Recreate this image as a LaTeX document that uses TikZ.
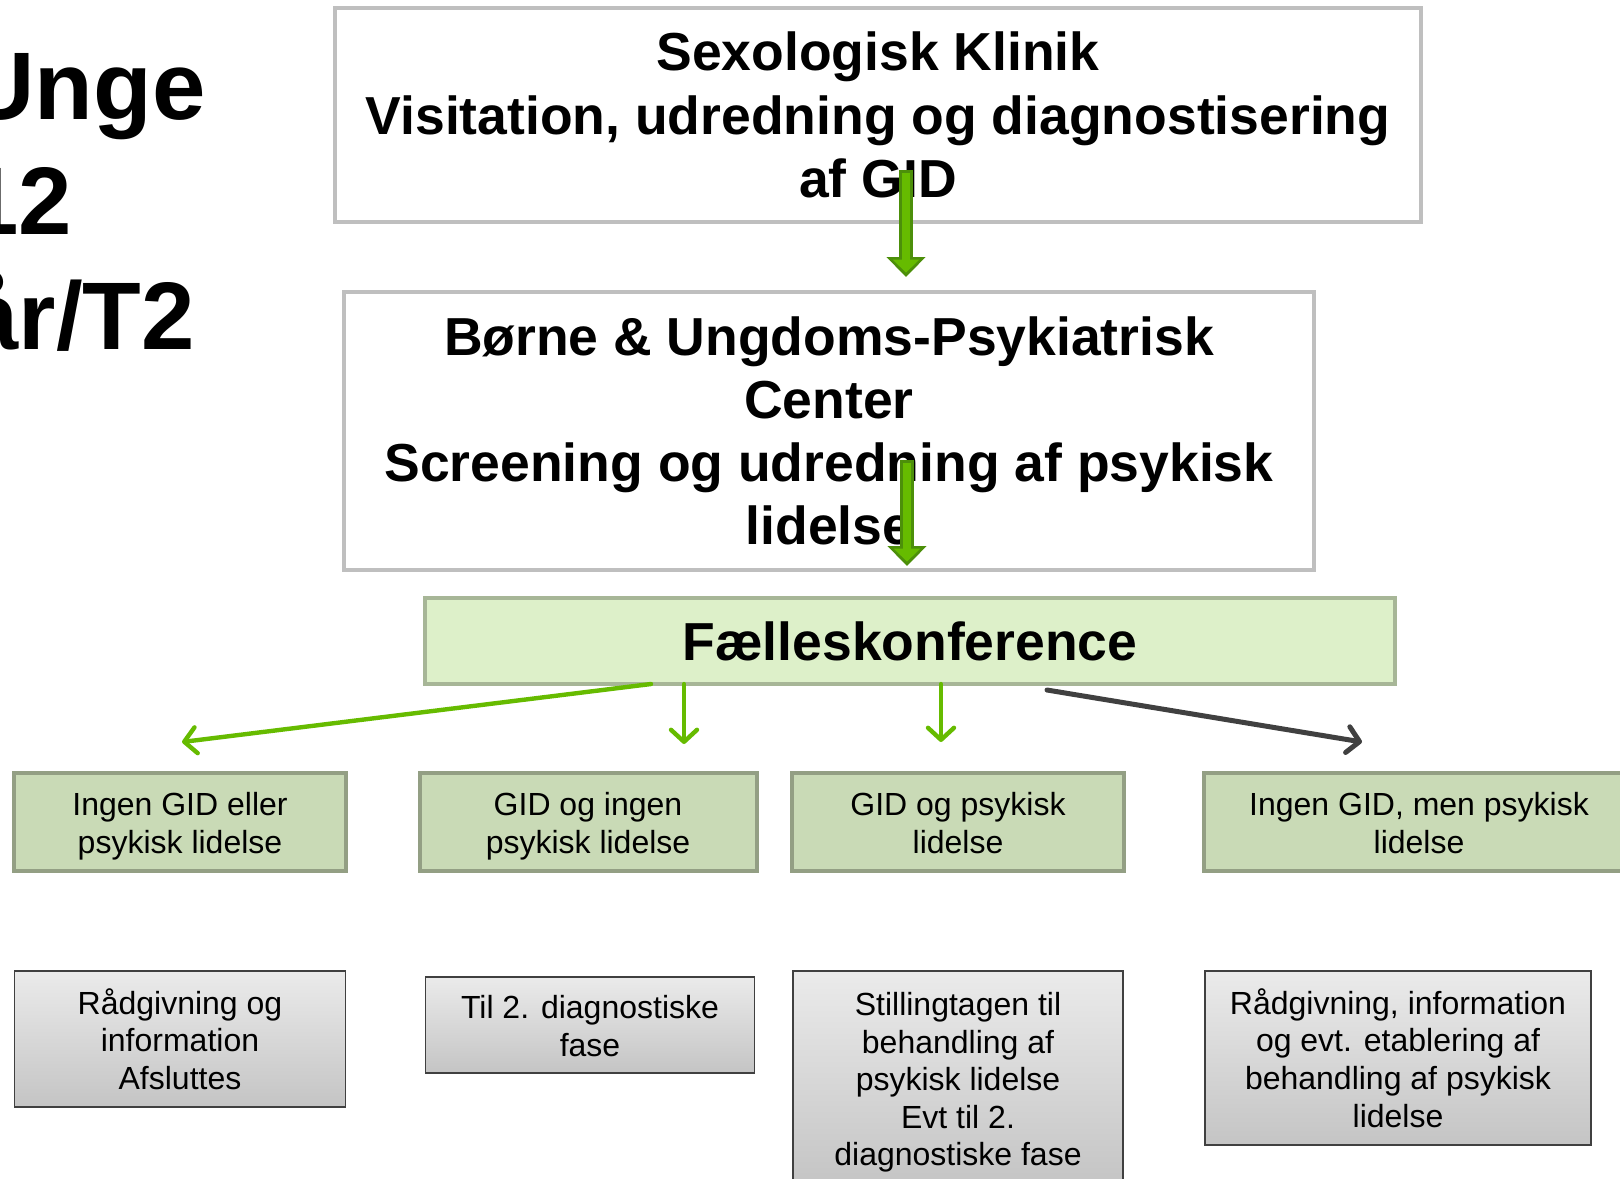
\documentclass[tikz,border=0pt]{standalone}
\usepackage{fontspec}
\setmainfont{Liberation Sans}
\usetikzlibrary{arrows.meta}

\definecolor{framegray}{HTML}{BFBFBF}
\definecolor{konffill}{HTML}{DDF0C9}
\definecolor{konfdraw}{HTML}{A7B697}
\definecolor{resfill}{HTML}{C9DAB6}
\definecolor{resdraw}{HTML}{939F84}
\definecolor{arrgreen}{HTML}{66BB00}
\definecolor{arrdark}{HTML}{4C8F0A}
\definecolor{arrgray}{HTML}{404040}

\newcommand{\topstrut}{\rule{0pt}{16pt}}

\begin{document}
\begin{tikzpicture}[x=0.5pt, y=-0.5pt,
    mainbox/.style={draw=framegray, line width=2pt, rectangle, fill=white, align=center, inner sep=2pt,
        font=\fontsize{26.75}{31.6}\selectfont\bfseries},
    konfbox/.style={draw=konfdraw, line width=2pt, rectangle, fill=konffill, align=center, inner sep=2pt,
        font=\fontsize{26.75}{31.6}\selectfont\bfseries},
    resbox/.style={draw=resdraw, line width=2pt, rectangle, fill=resfill, align=center, inner sep=2pt,
        minimum height=49pt, font=\fontsize{16}{18.8}\selectfont},
    actbox/.style={draw=arrgray, line width=0.8pt, rectangle, top color=black!8, bottom color=black!23,
        align=center, inner sep=2pt, font=\fontsize{16}{18.8}\selectfont},
    fatarrow/.style={line width=7pt, draw=arrdark, -{Triangle[width=19pt,length=10pt]}},
    fatinner/.style={line width=4pt, draw=arrgreen, shorten <=1.5pt, shorten >=2.2pt, -{Triangle[width=13pt,length=6.5pt]}},
    thinarrow/.style={line width=2.2pt, draw=arrgreen, line cap=round, -{Straight Barb[length=6pt,width=13pt,round]}},
    grayarrow/.style={line width=2.5pt, draw=arrgray, line cap=round, -{Straight Barb[length=6pt,width=13pt,round]}}]
    \useasboundingbox (0,0) rectangle (1620,1178);
    \clip (0,0) rectangle (1620,1178);

    % Title (cut at the left edge)
    \node[anchor=base west, align=left, inner sep=0pt, font=\fontsize{48}{57.5}\selectfont\bfseries] (title) at (-35,349) {Unge\\12\\år/T2};

    % Clinic boxes
    \node[mainbox, minimum width=543pt, minimum height=107pt] (sexklinik) at (878,115) {Sexologisk Klinik\\Visitation, udredning og diagnostisering\\af GID};
    \node[mainbox, minimum width=485pt, minimum height=139pt] (bupcenter) at (829,431) {Børne \& Ungdoms-Psykiatrisk\\Center\\Screening og udredning af psykisk\\lidelse};

    % Block arrows
    \coordinate (fa1s) at (906,170);
    \coordinate (fa1e) at (906,277);
    \coordinate (fa2s) at (907,460);
    \coordinate (fa2e) at (907,566);
    \draw[fatarrow] (fa1s) -- (fa1e);
    \draw[fatinner] (fa1s) -- (fa1e);
    \draw[fatarrow] (fa2s) -- (fa2e);
    \draw[fatinner] (fa2s) -- (fa2e);

    % Joint conference
    \node[konfbox, minimum width=485pt, minimum height=43pt] (konference) at (910,641) {Fælleskonference};

    % Outcomes
    \node[resbox, minimum width=166pt] (ingengid) at (180,822) {\topstrut Ingen GID eller\\psykisk lidelse};
    \node[resbox, minimum width=168.5pt] (gidingen) at (588,822) {\topstrut GID og ingen\\psykisk lidelse};
    \node[resbox, minimum width=166pt] (gidpsyk) at (958,822) {\topstrut GID og psykisk\\lidelse\vphantom{p}};
    \node[resbox, minimum width=215pt] (kunpsyk) at (1419,822) {\topstrut Ingen GID, men psykisk\\lidelse\vphantom{p}};

    % Actions
    \node[actbox, minimum width=165.5pt, minimum height=68pt] (afslut) at (180,1039) {\topstrut Rådgivning og\\information\\Afsluttes\vphantom{p}};
    \node[actbox, minimum width=164.5pt, minimum height=48pt] (fase2) at (590,1025) {\topstrut Til 2. diagnostiske\\fase\vphantom{p}};
    \node[actbox, minimum width=165pt, minimum height=107pt] (stilling) at (958,1078) {\topstrut Stillingtagen til\\behandling af\\psykisk lidelse\\Evt til 2.\\diagnostiske fase};
    \node[actbox, minimum width=193pt, minimum height=87pt] (raadgiv) at (1398,1058) {\topstrut Rådgivning, information\\og evt. etablering af\\behandling af psykisk\\lidelse\vphantom{p}};

    % Arrows out of the conference
    \coordinate (k1) at (651,684);
    \coordinate (k2) at (684,684);
    \coordinate (k3) at (941,684);
    \coordinate (k4) at (1047,690);
    \coordinate (e1) at (182,742);
    \coordinate (e2) at (684,744);
    \coordinate (e3) at (941,742);
    \coordinate (e4) at (1362,742);
    \draw[thinarrow] (k1) -- (e1);
    \draw[thinarrow] (k2) -- (e2);
    \draw[thinarrow] (k3) -- (e3);
    \draw[grayarrow] (k4) -- (e4);

\end{tikzpicture}
\end{document}
